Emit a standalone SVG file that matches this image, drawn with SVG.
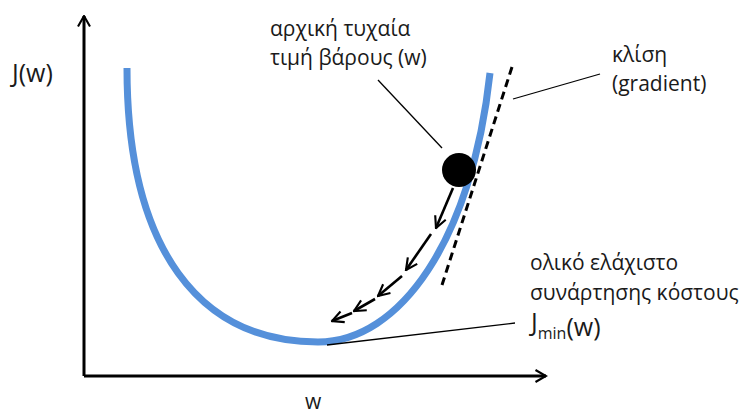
<svg xmlns="http://www.w3.org/2000/svg" width="741" height="418" viewBox="0 0 741 418">
<style>
text{font-family:"Open Sans","Noto Sans","DejaVu Sans",sans-serif;font-size:21px;fill:#1a1a1a}
.big{font-size:25px}
.ax{stroke:#000;stroke-width:3;fill:none}
.lead{stroke:#000;stroke-width:1.3;fill:none}
.step{stroke:#000;stroke-width:2.6;fill:none;marker-end:url(#vh)}
</style>
<defs>
<marker id="vh" viewBox="0 0 10 10" refX="9" refY="5" markerWidth="5.5" markerHeight="5.5" orient="auto" markerUnits="strokeWidth">
<path d="M1,1 L9,5 L1,9" fill="none" stroke="#000" stroke-width="1.5"/>
</marker>
<marker id="ah" viewBox="0 0 10 10" refX="9" refY="5" markerWidth="5" markerHeight="5" orient="auto" markerUnits="strokeWidth">
<path d="M2,1 L9,5 L2,9" fill="none" stroke="#000" stroke-width="1.4"/>
</marker>
</defs>
<rect width="741" height="418" fill="#fff"/>
<g id="axes">
<path class="ax" d="M84,376 L84,16" marker-end="url(#ah)"/>
<path class="ax" d="M84,376 L546,376" marker-end="url(#ah)"/>
<text class="big" x="12" y="82">J(w)</text>
<text x="305" y="409" font-size="24">w</text>
</g>
<g id="curve">
<path d="M127,68 C127,250 200,342 318,342 C400,342 472,240 490,73" fill="none" stroke="#5590da" stroke-width="7"/>
</g>
<g id="tangent">
<path d="M512,67 L442,285" fill="none" stroke="#000" stroke-width="3" stroke-dasharray="8,5"/>
</g>
<g id="ball">
<circle cx="459" cy="170" r="17" fill="#000"/>
</g>
<g id="connectors">
<path class="step" d="M453,188 L436,228"/>
<path class="step" d="M431,234 L406,270"/>
<path class="step" d="M402,276 L378,296"/>
<path class="step" d="M375,299 L354,311"/>
<path class="step" d="M352,313 L332,321"/>
<path class="lead" d="M378,80 L442,148"/>
<path class="lead" d="M513,99 L600,74"/>
<path class="lead" d="M327,345 L515,323"/>
</g>
<g id="label-start">
<text x="270" y="36">αρχική τυχαία</text>
<text x="270" y="65">τιμή βάρους (w)</text>
</g>
<g id="label-gradient">
<text x="612" y="62">κλίση</text>
<text x="612" y="91">(gradient)</text>
</g>
<g id="label-min">
<text x="530" y="270">ολικό ελάχιστο</text>
<text x="530" y="300">συνάρτησης κόστους</text>
<text class="big" x="531" y="331">J<tspan font-size="16" dy="8">min</tspan><tspan dy="-3">(w)</tspan></text>
</g>
</svg>
